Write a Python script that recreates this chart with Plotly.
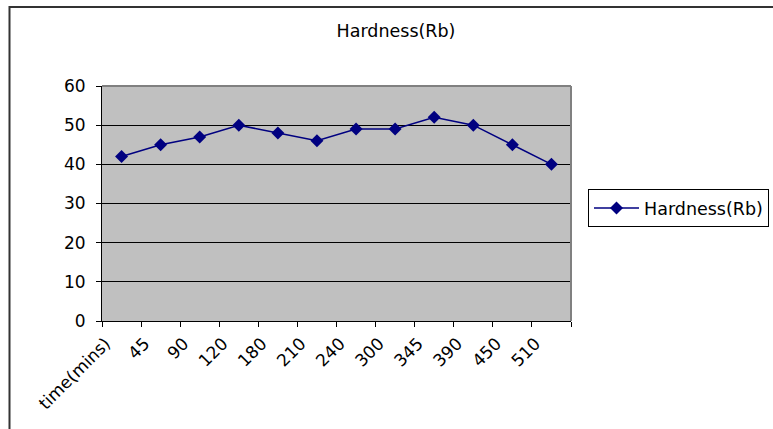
import plotly.graph_objects as go

categories = ["time(mins)", "45", "90", "120", "180", "210", "240", "300", "345", "390", "450", "510"]
hardness = [42, 45, 47, 50, 48, 46, 49, 49, 52, 50, 45, 40]
y_ticks = [0, 10, 20, 30, 40, 50, 60]
series_name = "Hardness(Rb)"
title_text = "Hardness(Rb)"

W, H = 773, 429
L, R, T, B = 102, 202, 86, 108
pw, ph = W - L - R, H - T - B

def px(x):
    return (x - L) / pw

def py(y):
    return (H - B - y) / ph

FONT = "DejaVu Sans"
NAVY = "#000080"

fig = go.Figure()
fig.add_trace(go.Scatter(
    x=categories, y=hardness, name=series_name, mode="lines+markers",
    line=dict(color=NAVY, width=1.5),
    marker=dict(symbol="diamond", size=10, color=NAVY),
))

fig.update_layout(
    width=W, height=H,
    margin=dict(l=L, r=R, t=T, b=B, autoexpand=False),
    paper_bgcolor="white", plot_bgcolor="#C0C0C0",
    font=dict(family=FONT, size=17, color="black"),
    title=dict(text=title_text, x=px(396), xref="paper", xanchor="center",
               y=1 - 31 / H, yref="container", yanchor="middle",
               font=dict(family=FONT, size=17.5, color="black")),
    showlegend=True,
    legend=dict(x=px(588), y=py(189), xanchor="left", yanchor="top",
                bgcolor="white", bordercolor="black", borderwidth=1,
                font=dict(family=FONT, size=17.5, color="black"),
                itemwidth=45, tracegroupgap=0),
    xaxis=dict(type="category", tickmode="array", tickvals=categories, ticktext=categories,
               tickangle=-45, ticks="outside", ticklen=5, tickcolor="black", tickwidth=1,
               tickson="boundaries", showgrid=False, showline=True, linecolor="black",
               linewidth=1, zeroline=False, range=[-0.5, len(categories) - 0.5],
               ticklabelshift=-16, ticklabelstandoff=5,
               tickfont=dict(family=FONT, size=17, color="black")),
    yaxis=dict(range=[0, 60], tickmode="array", tickvals=y_ticks, ticks="outside",
               ticklen=5, tickcolor="black", tickwidth=1, showgrid=True,
               gridcolor="black", gridwidth=1, showline=True, linecolor="black",
               linewidth=1, zeroline=False, ticklabelstandoff=7,
               tickfont=dict(family=FONT, size=17, color="black")),
    shapes=[
        dict(type="line", xref="paper", yref="paper", x0=0, x1=1, y0=1, y1=1,
             line=dict(color="#808080", width=2), layer="above"),
        dict(type="line", xref="paper", yref="paper", x0=1, x1=1, y0=0, y1=1,
             line=dict(color="#808080", width=2), layer="above"),
        dict(type="rect", xref="paper", yref="paper", x0=px(9.5), x1=px(790),
             y0=py(445), y1=py(7), line=dict(color="#333333", width=2),
             fillcolor="rgba(0,0,0,0)", layer="below"),
    ],
)

fig.write_html("out.html")
